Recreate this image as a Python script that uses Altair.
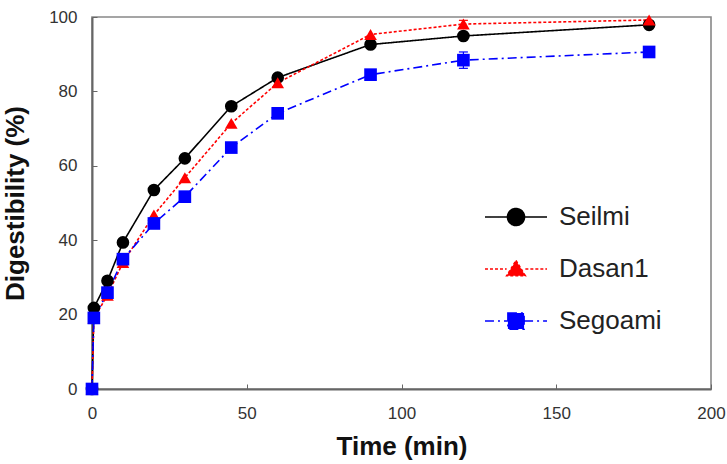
import altair as alt
import pandas as pd

# ---- data ----
times = [0, 0.6, 5, 10, 20, 30, 45, 60, 90, 120, 180]
seilmi = [0, 21.8, 29.1, 39.4, 53.5, 62.0, 76.0, 83.7, 92.6, 94.9, 97.9]
dasan1 = [0, 19.0, 25.2, 34.0, 46.8, 56.8, 71.4, 82.3, 95.3, 98.1, 99.2]
segoami = [0, 19.1, 25.9, 34.9, 44.5, 51.7, 64.9, 74.1, 84.5, 88.4, 90.6]
err_seilmi = [0, 0, 0, 0, 0, 0, 0, 0, 0, 0, 0]
err_dasan1 = [0, 0, 0, 0, 0, 0, 0, 0, 0, 1.0, 0]
err_segoami = [0, 0, 0, 0, 0, 0, 0, 0, 1.3, 2.2, 0]

names = ["Seilmi", "Dasan1", "Segoami"]
colors = ["#000000", "#ff0000", "#0000ff"]
dashes = [[1, 0], [3, 2], [9, 4, 2, 4]]
shapes = ["circle", "triangle-up", "square"]
legend_paths = [
    "M-3.65,0H-1M1,0H3.65M-1,0A1,1,0,1,0,1,0A1,1,0,1,0,-1,0Z",
    "M-3.65,0H-1.1M1.1,0H3.65M0,-1.0L1.1,0.8L-1.1,0.8Z",
    "M-3.65,0H-0.95M0.95,0H3.65M-0.95,-0.95H0.95V0.95H-0.95Z",
]
x_ticks = [0, 50, 100, 150, 200]
y_ticks = [0, 20, 40, 60, 80, 100]

rows = []
for name, vals, errs in zip(names, [seilmi, dasan1, segoami], [err_seilmi, err_dasan1, err_segoami]):
    for t, v, e in zip(times, vals, errs):
        rows.append({"time": t, "val": v, "err": e, "lo": v - e, "hi": v + e, "variety": name})
df = pd.DataFrame(rows)

W, H = 619, 372
FONT = "Liberation Sans"

xscale = alt.Scale(domain=[0, 200], nice=False)
yscale = alt.Scale(domain=[0, 100], nice=False)

x_main = alt.X("time:Q", scale=xscale, axis=alt.Axis(
    values=x_ticks, title="Time (min)", ticks=False, grid=False, labelFlush=False,
    labelFont=FONT, labelFontSize=17, labelColor="#333", labelPadding=16,
    domainColor="#666", domainWidth=2,
    titleFont=FONT, titleFontSize=26, titleFontWeight="bold", titleColor="#111",
    titlePadding=12))
y_main = alt.Y("val:Q", scale=yscale, axis=alt.Axis(
    values=y_ticks, title="Digestibility (%)", ticks=False, grid=False, labelFlush=False,
    labelFont=FONT, labelFontSize=17, labelColor="#333", labelPadding=15,
    domainColor="#666", domainWidth=2,
    titleFont=FONT, titleFontSize=26, titleFontWeight="bold", titleColor="#111",
    titlePadding=20))

base = alt.Chart(df)

layers = []
first = True
for name, col, dsh, shp in zip(names, colors, dashes, shapes):
    sub = base.transform_filter(alt.datum.variety == name)
    if first:
        layers.append(sub.mark_line(color=col, strokeDash=dsh, strokeWidth=1.6).encode(x=x_main, y=y_main))
        first = False
    else:
        layers.append(sub.mark_line(color=col, strokeDash=dsh, strokeWidth=1.6).encode(x="time:Q", y="val:Q"))
    errs = sub.transform_filter("datum.err > 0")
    layers.append(errs.mark_rule(color=col, strokeWidth=1.2).encode(x="time:Q", y="lo:Q", y2="hi:Q"))
    layers.append(errs.mark_tick(color=col, orient="horizontal", size=9, thickness=1.2, opacity=1).encode(
        x="time:Q", y="lo:Q"))
    layers.append(errs.mark_tick(color=col, orient="horizontal", size=9, thickness=1.2, opacity=1).encode(
        x="time:Q", y="hi:Q"))

for name, col, shp in zip(names, colors, shapes):
    sub = base.transform_filter(alt.datum.variety == name)
    layers.append(sub.mark_point(shape=shp, filled=True, size=160, opacity=1, color=col).encode(
        x="time:Q", y="val:Q"))

legend_layer = base.transform_filter("datum.val < -1000").mark_point(opacity=1, strokeWidth=1.6).encode(
    x="time:Q", y="val:Q",
    fill=alt.Fill("variety:N", scale=alt.Scale(domain=names, range=colors), sort=names),
    stroke=alt.Stroke("variety:N", scale=alt.Scale(domain=names, range=colors), sort=names),
    shape=alt.Shape("variety:N", scale=alt.Scale(domain=names, range=legend_paths), sort=names),
    strokeDash=alt.StrokeDash("variety:N", scale=alt.Scale(domain=names, range=dashes), sort=names),
)
layers.append(legend_layer)

main = alt.layer(*layers)

tick_layer = base.mark_point(opacity=0).encode(
    x=alt.X("time:Q", scale=xscale, axis=alt.Axis(
        orient="top", offset=-H, values=x_ticks, labels=False, domain=False,
        ticks=True, tickSize=5, tickColor="#666", tickWidth=1, grid=False, title=None)),
    y=alt.Y("val:Q", scale=yscale, axis=alt.Axis(
        orient="right", offset=-W, values=y_ticks, labels=False, domain=False,
        ticks=True, tickSize=5, tickColor="#666", tickWidth=1, grid=False, title=None)),
)

chart = alt.layer(main, tick_layer).resolve_axis(x="independent", y="independent").properties(
    width=W, height=H,
    autosize=alt.AutoSizeParams(type="none"),
    padding={"left": 92, "top": 17, "right": 16, "bottom": 75},
    background="white",
).configure_view(
    stroke="#888", strokeWidth=1.6
).configure_legend(
    orient="none", legendX=411, legendY=187, title=None, padding=0,
    symbolSize=289, symbolStrokeWidth=1.6, labelFont=FONT, labelFontSize=26,
    labelColor="#222", labelOffset=30, rowPadding=26,
)

chart.save("out.html", embed_options={"renderer": "svg", "actions": False})
